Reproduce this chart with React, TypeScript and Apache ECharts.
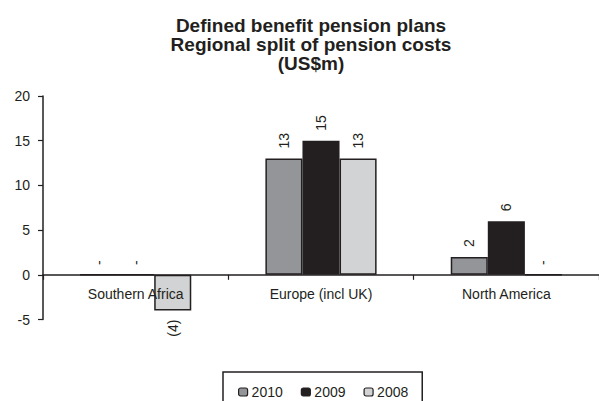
import React, { useEffect, useRef } from "react";
import * as echarts from "echarts";

const titleLines = ["Defined benefit pension plans", "Regional split of pension costs", "(US$m)"];
const categories = ["Southern Africa", "Europe (incl UK)", "North America"];
const seriesNames = ["2010", "2009", "2008"];
const values2010 = [0, 13, 2];
const values2009 = [0, 15, 6];
const values2008 = [-4, 13, 0];
const seriesColors = ["#939598", "#231f20", "#d1d3d4"];
const yTicks = { min: -5, max: 20, interval: 5 };

const ink = "#231f20";
const font = "'Liberation Sans', Arial, Helvetica, sans-serif";

function fmt(v: number) {
  if (v === 0) return "-";
  if (v < 0) return "(" + Math.abs(v) + ")";
  return String(v);
}

function makeData(vals: number[]) {
  return vals.map((v) => ({
    value: v,
    label:
      v < 0
        ? { position: "bottom", align: "right", verticalAlign: "middle", distance: 9 }
        : { position: "top", align: "left", verticalAlign: "middle", distance: v === 0 ? 9 : 10 },
  }));
}

export default function App() {
  const ref = useRef<HTMLDivElement>(null);
  useEffect(() => {
    if (!ref.current) return;
    const chart = echarts.init(ref.current, undefined, { renderer: "svg" });
    const allVals = [values2010, values2009, values2008];
    chart.setOption({
      animation: false,
      backgroundColor: "#ffffff",
      title: {
        text: titleLines.join("\n"),
        left: 306,
        textAlign: "center",
        top: 11,
        textStyle: {
          fontFamily: font,
          fontWeight: "bold",
          fontSize: 19,
          lineHeight: 19,
          color: ink,
        },
      },
      legend: {
        data: seriesNames,
        left: 223,
        top: 372,
        padding: [13, 14, 14, 15],
        borderColor: ink,
        borderWidth: 1.5,
        itemWidth: 9,
        itemHeight: 8,
        itemGap: 18,
        itemStyle: { borderWidth: 1.2 },
        textStyle: { fontFamily: font, fontSize: 14, color: ink, padding: [0, 0, 0, -1] },
      },
      grid: { left: 43, right: 0, top: 96, bottom: 81.5, containLabel: false },
      xAxis: {
        type: "category",
        data: categories,
        z: 5,
        axisLine: { show: true, onZero: true, lineStyle: { color: ink, width: 1.5 } },
        axisTick: { show: true, length: 5, lineStyle: { color: ink, width: 1.2 } },
        axisLabel: { fontFamily: font, fontSize: 14, color: ink, margin: -33 },
      },
      yAxis: {
        type: "value",
        min: yTicks.min,
        max: yTicks.max,
        interval: yTicks.interval,
        splitLine: { show: false },
        axisLine: { show: true, lineStyle: { color: ink, width: 1.5 } },
        axisTick: { show: true, length: 5, lineStyle: { color: ink, width: 1.2 } },
        axisLabel: { fontFamily: font, fontSize: 14, color: ink, margin: 13 },
      },
      series: seriesNames.map((name, i) => ({
        name,
        type: "bar",
        data: makeData(allVals[i]),
        barGap: "0%",
        barCategoryGap: "40%",
        itemStyle: { color: seriesColors[i], borderColor: ink, borderWidth: 1.5 },
        label: {
          show: true,
          rotate: 90,
          fontFamily: font,
          fontSize: 14,
          color: ink,
          formatter: (p: any) => fmt(p.value),
        },
      })),
    });
    return () => chart.dispose();
  }, []);
  return <div ref={ref} style={{ width: 599, height: 401, position: "absolute", left: 0, top: 0 }} />;
}
